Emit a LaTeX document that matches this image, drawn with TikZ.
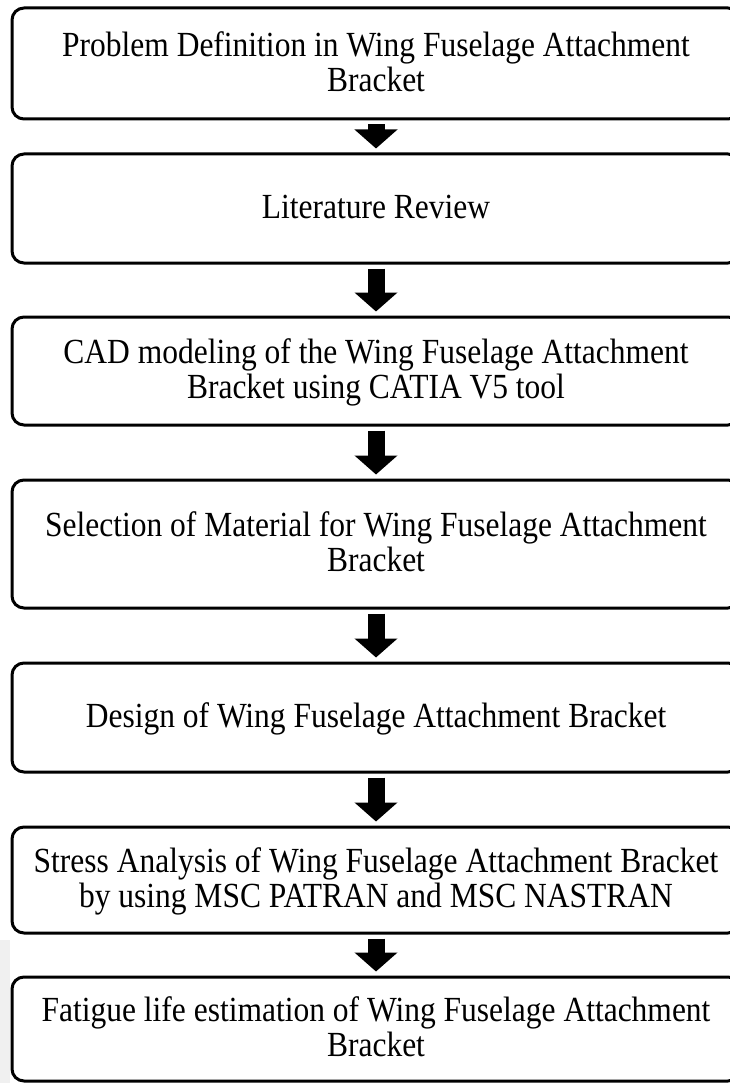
\documentclass[tikz,border=0pt]{standalone}
\usepackage{fontspec}
\usepackage{graphicx}
\setmainfont{Liberation Serif}
\usetikzlibrary{arrows.meta}
\newcommand{\stagetext}[1]{\raisebox{-3pt}[\height][\depth]{\scalebox{1}[1.12]{\fontsize{31.5}{31.3}\selectfont\begin{tabular}{@{}c@{}}#1\end{tabular}}}}
\tikzset{
  stagebox/.style={draw=black, line width=3pt, rounded corners=12pt, fill=white,
    minimum width=728pt, inner sep=0pt, align=center},
  flowarrow/.style={line width=17pt, shorten <=4pt, shorten >=4pt,
    -{Triangle[width=42pt,length=19pt]}}
}
\begin{document}
\begin{tikzpicture}[x=1pt,y=-1pt]
\useasboundingbox (0,0) rectangle (730,1083);
\fill[gray!12] (0,940) rectangle (10,1083);
\begin{scope}
\clip (0,0) rectangle (730,1083);
\node[stagebox, minimum height=111pt] (b1) at (376,63.5) {\stagetext{Problem Definition in Wing Fuselage Attachment\\Bracket}};
\node[stagebox, minimum height=109pt] (b2) at (376,208.5) {\stagetext{Literature Review}};
\node[stagebox, minimum height=108pt] (b3) at (376,371) {\stagetext{CAD modeling of the Wing Fuselage Attachment\\Bracket using CATIA V5 tool}};
\node[stagebox, minimum height=128pt] (b4) at (376,544) {\stagetext{Selection of Material for Wing Fuselage Attachment\\Bracket}};
\node[stagebox, minimum height=109pt] (b5) at (376,717.5) {\stagetext{Design of Wing Fuselage Attachment Bracket}};
\node[stagebox, minimum height=106pt] (b6) at (376,880) {\stagetext{Stress Analysis of Wing Fuselage Attachment Bracket\\by using MSC PATRAN and MSC NASTRAN}};
\node[stagebox, minimum height=104pt] (b7) at (376,1029) {\stagetext{Fatigue life estimation of Wing Fuselage Attachment\\Bracket}};
\end{scope}
\draw[flowarrow] (b1.south) -- (b2.north);
\draw[flowarrow] (b2.south) -- (b3.north);
\draw[flowarrow] (b3.south) -- (b4.north);
\draw[flowarrow] (b4.south) -- (b5.north);
\draw[flowarrow] (b5.south) -- (b6.north);
\draw[flowarrow] (b6.south) -- (b7.north);
\end{tikzpicture}
\end{document}
